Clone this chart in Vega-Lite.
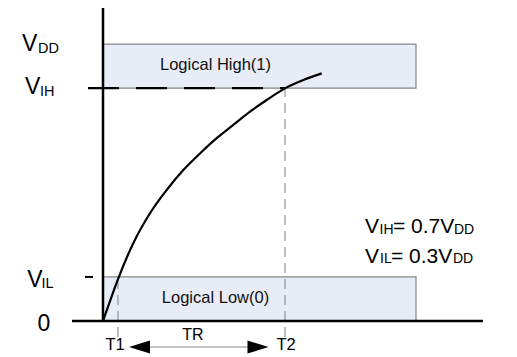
{
  "$schema": "https://vega.github.io/schema/vega-lite/v6.json",
  "width": 517,
  "height": 357,
  "padding": 0,
  "autosize": {"type": "fit", "contains": "padding"},
  "background": "#ffffff",
  "config": {"view": {"stroke": null}, "text": {"font": "Liberation Sans"}},
  "encoding": {
    "x": {"field": "t", "type": "quantitative", "scale": {"domain": [-10.3, 41.4], "nice": false, "zero": false}, "axis": null},
    "y": {"field": "v", "type": "quantitative", "scale": {"domain": [-0.13, 1.159], "nice": false, "zero": false}, "axis": null}
  },
  "layer": [
    {
      "data": {"values": [
        {"band": "Logical High(1)", "t": 0, "t2": 31.3, "v": 0.841, "v2": 1.0},
        {"band": "Logical Low(0)", "t": 0, "t2": 31.3, "v": 0.0, "v2": 0.159}
      ]},
      "mark": {"type": "rect", "fill": "#e8ecf6", "stroke": "#858585", "strokeWidth": 1.2},
      "encoding": {"x2": {"field": "t2"}, "y2": {"field": "v2"}}
    },
    {
      "data": {"values": [
        {"name": "T1", "t": 1.5, "v": -0.058, "v2": 0.159},
        {"name": "T2", "t": 18.2, "v": -0.058, "v2": 0.841}
      ]},
      "mark": {"type": "rule", "color": "#8a8a8a", "strokeWidth": 1.1, "strokeDash": [10, 6]},
      "encoding": {"y2": {"field": "v2"}}
    },
    {
      "data": {"values": [{"name": "VIH", "t": -1.5, "t2": 18.2, "v": 0.841}]},
      "mark": {"type": "rule", "color": "#000000", "strokeWidth": 2.2, "strokeDash": [31, 17]},
      "encoding": {"x2": {"field": "t2"}}
    },
    {
      "data": {"values": [{"name": "VIL tick", "t": -1.8, "t2": -1.0, "v": 0.159}]},
      "mark": {"type": "rule", "color": "#000000", "strokeWidth": 2},
      "encoding": {"x2": {"field": "t2"}}
    },
    {
      "data": {"values": [{"name": "x axis", "t": -3.1, "t2": 38.0, "v": 0}]},
      "mark": {"type": "rule", "color": "#000000", "strokeWidth": 2.5},
      "encoding": {"x2": {"field": "t2"}}
    },
    {
      "data": {"values": [{"name": "y axis", "t": 0, "v": 0, "v2": 1.13}]},
      "mark": {"type": "rule", "color": "#000000", "strokeWidth": 2.5},
      "encoding": {"y2": {"field": "v2"}}
    },
    {
      "data": {"values": [
        {"t": 0, "v": 0},
        {"t": 0.7, "v": 0.072},
        {"t": 1.53, "v": 0.154},
        {"t": 3.03, "v": 0.281},
        {"t": 4.7, "v": 0.389},
        {"t": 6.37, "v": 0.473},
        {"t": 8.03, "v": 0.545},
        {"t": 9.7, "v": 0.605},
        {"t": 11.37, "v": 0.66},
        {"t": 13.03, "v": 0.708},
        {"t": 14.7, "v": 0.756},
        {"t": 16.37, "v": 0.798},
        {"t": 18.2, "v": 0.84},
        {"t": 20.03, "v": 0.87},
        {"t": 21.87, "v": 0.894}
      ]},
      "mark": {"type": "line", "color": "#000000", "strokeWidth": 2.2, "interpolate": "monotone"},
      "encoding": {"order": {"field": "t"}}
    },
    {
      "data": {"values": [{"name": "TR", "t": 3.65, "t2": 15.5, "v": -0.0939}]},
      "mark": {"type": "rule", "color": "#8a8a8a", "strokeWidth": 1.1},
      "encoding": {"x2": {"field": "t2"}}
    },
    {
      "data": {"values": [{"t": 3.65, "v": -0.0939}]},
      "mark": {"type": "point", "shape": "M -1 0 L 1 -0.62 L 1 0.62 Z", "size": 441, "filled": true, "color": "#000000", "opacity": 1}
    },
    {
      "data": {"values": [{"t": 15.5, "v": -0.0939}]},
      "mark": {"type": "point", "shape": "M 1 0 L -1 -0.62 L -1 0.62 Z", "size": 441, "filled": true, "color": "#000000", "opacity": 1}
    },
    {
      "data": {"values": [
        {"label": "V", "t": -8.1, "v": 0.9747},
        {"label": "V", "t": -7.8, "v": 0.8195},
        {"label": "V", "t": -7.57, "v": 0.1217},
        {"label": "0", "t": -6.55, "v": -0.035}
      ]},
      "mark": {"type": "text", "fontSize": 23, "align": "left", "baseline": "alphabetic", "color": "#000000"},
      "encoding": {"text": {"field": "label"}}
    },
    {
      "data": {"values": [
        {"label": "DD", "t": -6.5, "v": 0.9664},
        {"label": "IH", "t": -6.3, "v": 0.8141},
        {"label": "IL", "t": -6.15, "v": 0.118}
      ]},
      "mark": {"type": "text", "fontSize": 14.5, "align": "left", "baseline": "alphabetic", "color": "#000000"},
      "encoding": {"text": {"field": "label"}}
    },
    {
      "data": {"values": [
        {"label": "V", "t": 26.2, "v": 0.3195},
        {"label": "= 0.7V", "t": 29.0, "v": 0.3195},
        {"label": "V", "t": 26.2, "v": 0.2112},
        {"label": "= 0.3V", "t": 28.8, "v": 0.2112}
      ]},
      "mark": {"type": "text", "fontSize": 21, "align": "left", "baseline": "alphabetic", "color": "#000000"},
      "encoding": {"text": {"field": "label"}}
    },
    {
      "data": {"values": [
        {"label": "IH", "t": 27.65, "v": 0.3159},
        {"label": "DD", "t": 35.1, "v": 0.3141},
        {"label": "IL", "t": 27.7, "v": 0.2094},
        {"label": "DD", "t": 35.0, "v": 0.2076}
      ]},
      "mark": {"type": "text", "fontSize": 14, "align": "left", "baseline": "alphabetic", "color": "#000000"},
      "encoding": {"text": {"field": "label"}}
    },
    {
      "data": {"values": [
        {"label": "Logical High(1)", "t": 11.25, "v": 0.924},
        {"label": "Logical Low(0)", "t": 11.25, "v": 0.083}
      ]},
      "mark": {"type": "text", "fontSize": 16.5, "align": "center", "baseline": "middle", "color": "#111111"},
      "encoding": {"text": {"field": "label"}}
    },
    {
      "data": {"values": [
        {"label": "T1", "t": 1.2, "v": -0.0866},
        {"label": "T2", "t": 18.3, "v": -0.0866}
      ]},
      "mark": {"type": "text", "fontSize": 16.5, "align": "center", "baseline": "middle", "color": "#000000"},
      "encoding": {"text": {"field": "label"}}
    },
    {
      "data": {"values": [{"label": "TR", "t": 9.0, "v": -0.0505}]},
      "mark": {"type": "text", "fontSize": 16, "align": "center", "baseline": "middle", "color": "#000000"},
      "encoding": {"text": {"field": "label"}}
    }
  ]
}
